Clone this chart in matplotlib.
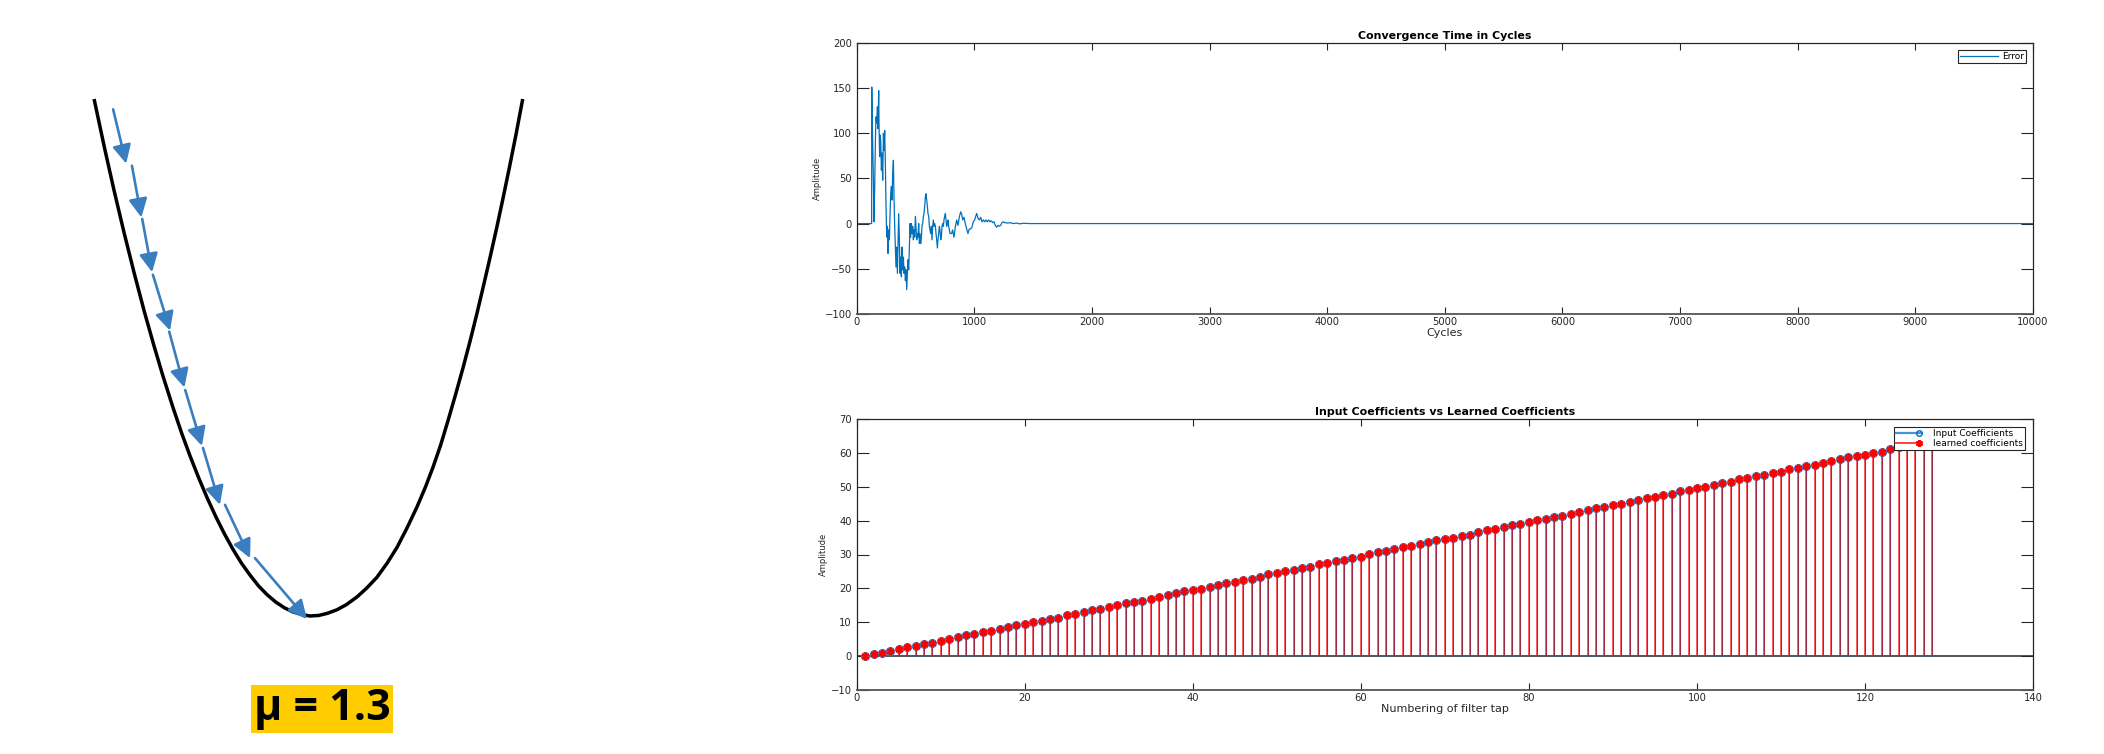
import matplotlib
matplotlib.use("Agg")
import matplotlib.pyplot as plt
from matplotlib.lines import Line2D
from matplotlib.legend_handler import HandlerBase

# ---------------- data ----------------
# left schematic (u = normalized weight, v = normalized cost), read off the bowl
bowl_u = [-1.009, -0.960, -0.915, -0.868, -0.822, -0.775, -0.730, -0.687, -0.640,
          -0.600, -0.560, -0.520, -0.480, -0.440, -0.400, -0.360, -0.320, -0.280,
          -0.240, -0.200, -0.160, -0.120, -0.080, -0.040, 0.000,
          0.040, 0.080, 0.126, 0.170, 0.220, 0.265, 0.313, 0.360, 0.407, 0.453,
          0.500, 0.540, 0.575, 0.610, 0.645, 0.680, 0.715, 0.750, 0.780, 0.808,
          0.840, 0.872, 0.902, 0.932, 0.962, 0.994]
bowl_v = [1.000, 0.905, 0.822, 0.740, 0.664, 0.590, 0.524, 0.464, 0.403,
          0.354, 0.309, 0.267, 0.228, 0.192, 0.159, 0.129, 0.102, 0.079,
          0.058, 0.041, 0.027, 0.016, 0.008, 0.003, 0.000,
          0.001, 0.005, 0.012, 0.022, 0.037, 0.054, 0.075, 0.102, 0.133, 0.170,
          0.211, 0.250, 0.288, 0.330, 0.378, 0.428, 0.480, 0.535, 0.585, 0.634,
          0.691, 0.750, 0.808, 0.868, 0.930, 1.000]
step_u_start = [-0.920, -0.832, -0.784, -0.734, -0.658, -0.583, -0.500, -0.397, -0.257]
step_v_start = [0.980, 0.871, 0.768, 0.660, 0.550, 0.437, 0.325, 0.215, 0.112]
step_u_end = [-0.859, -0.788, -0.738, -0.654, -0.587, -0.505, -0.421, -0.280, -0.014]
step_v_end = [0.875, 0.771, 0.665, 0.552, 0.442, 0.329, 0.215, 0.112, -0.006]
mu_label = "μ = 1.3"

# top: error vs cycles
error_cycles = [0, 127, 128, 133, 142, 147, 153, 159, 164, 170, 176, 181, 187, 190, 195,
                198, 204, 210, 215, 221, 227, 232, 238, 244, 249, 255, 261, 266, 272,
                278, 283, 289, 295, 300, 306, 312, 317, 323, 329, 334, 340, 346, 351,
                357, 363, 368, 374, 380, 385, 391, 397, 402, 408, 414, 419, 425, 431,
                436, 442, 448, 453, 459, 465, 470, 476, 482, 487, 493, 499, 504, 510,
                516, 521, 527, 533, 538, 544, 550, 555, 561, 567, 572, 578, 584, 589,
                595, 601, 606, 612, 618, 623, 629, 635, 640, 646, 652, 657, 663, 669,
                674, 680, 686, 691, 697, 703, 708, 714, 720, 725, 731, 737, 742, 748,
                754, 759, 765, 771, 776, 782, 788, 793, 807, 815, 827, 838, 850, 861,
                872, 884, 892, 901, 912, 923, 935, 946, 957, 969, 980, 991, 1003, 1014,
                1020, 1031, 1042, 1054, 1065, 1076, 1088, 1099, 1110, 1122, 1133, 1144,
                1156, 1167, 1178, 1189, 1201, 1212, 1223, 1235, 1246, 1257, 1269, 1280,
                1303, 1331, 1359, 1388, 1416, 1473, 10000]
error_values = [0, 0, 151, 107, 48, 2, 41, 92, 118, 111, 129, 105, 147, 107, 74,
                98, 92, 59, 78, 48, 100, 81, 103, 63, 22, -15, -3, -33, -7,
                -18, 8, 33, 41, 26, 55, 70, 30, -3, -29, -48, -26, -55, -26,
                11, -18, -55, -37, -59, -26, -51, -37, -55, -48, -63, -51, -73, -55,
                -40, -51, -26, 0, -15, 0, -11, -3, -18, -7, -15, 8, -3, -18,
                -11, -15, 0, -22, -11, -22, -15, -3, 0, 8, 11, 19, 30, 33,
                26, 19, 11, 8, -3, -7, -11, -3, -18, -3, 4, -3, 0, -3,
                -11, -18, -27, -18, -11, -3, -7, -18, -15, -3, 0, -3, 4, 8,
                11, 4, -3, 0, 4, -3, -7, -11, -11, -7, -15, -4, 4, -2,
                7, 13, 11, 4, 7, 0, -6, -11, -6, -6, -4, 2, 4, 9,
                11, 6, 4, 7, 2, 4, 2, 4, 2, 4, 2, 3,
                1, 2, -2, -4, -2, -3, -2, 1, 2, 1, 1, 0.5,
                1, 0, 0.5, -0.3, 0.3, 0, 0]

# bottom: filter coefficients
taps = list(range(1, 129))
input_coeffs = [0.0, 0.6, 1.0, 1.5, 2.0, 2.7, 3.1, 3.5, 4.0, 4.5,
                5.0, 5.6, 6.1, 6.6, 7.0, 7.5, 8.0, 8.7, 9.1, 9.5,
                10.0, 10.5, 10.9, 11.4, 12.1, 12.5, 13.1, 13.5, 14.0, 14.5,
                15.2, 15.6, 16.0, 16.4, 16.9, 17.4, 18.1, 18.6, 19.1, 19.5,
                19.9, 20.4, 21.1, 21.6, 22.0, 22.4, 22.9, 23.4, 24.1, 24.6,
                25.0, 25.5, 26.0, 26.4, 27.2, 27.6, 28.0, 28.5, 28.9, 29.4,
                30.1, 30.6, 31.1, 31.6, 32.1, 32.6, 33.0, 33.7, 34.2, 34.5,
                35.0, 35.5, 35.9, 36.6, 37.1, 37.5, 38.1, 38.6, 39.0, 39.6,
                40.2, 40.6, 41.0, 41.5, 41.9, 42.6, 43.1, 43.6, 44.1, 44.5,
                44.9, 45.6, 46.2, 46.6, 47.0, 47.5, 47.9, 48.6, 49.1, 49.5,
                50.0, 50.5, 51.0, 51.5, 52.2, 52.6, 53.1, 53.5, 54.0, 54.4,
                55.1, 55.5, 56.0, 56.4, 57.0, 57.5, 58.2, 58.7, 59.1, 59.5,
                60.0, 60.4, 61.1, 61.6, 62.0, 62.5, 63.0, 63.5]
learned_coeffs = [0.0, 0.6, 1.0, 1.5, 2.0, 2.7, 3.1, 3.5, 4.0, 4.5,
                  5.0, 5.6, 6.1, 6.6, 7.0, 7.5, 8.0, 8.7, 9.1, 9.5,
                  10.0, 10.5, 10.9, 11.4, 12.1, 12.5, 13.1, 13.5, 14.0, 14.5,
                  15.2, 15.6, 16.0, 16.4, 16.9, 17.4, 18.1, 18.6, 19.1, 19.5,
                  19.9, 20.4, 21.1, 21.6, 22.0, 22.4, 22.9, 23.4, 24.1, 24.6,
                  25.0, 25.5, 26.0, 26.4, 27.2, 27.6, 28.0, 28.5, 28.9, 29.4,
                  30.1, 30.6, 31.1, 31.6, 32.1, 32.6, 33.0, 33.7, 34.2, 34.5,
                  35.0, 35.5, 35.9, 36.6, 37.1, 37.5, 38.1, 38.6, 39.0, 39.6,
                  40.2, 40.6, 41.0, 41.5, 41.9, 42.6, 43.1, 43.6, 44.1, 44.5,
                  44.9, 45.6, 46.2, 46.6, 47.0, 47.5, 47.9, 48.6, 49.1, 49.5,
                  50.0, 50.5, 51.0, 51.5, 52.2, 52.6, 53.1, 53.5, 54.0, 54.4,
                  55.1, 55.5, 56.0, 56.4, 57.0, 57.5, 58.2, 58.7, 59.1, 59.5,
                  60.0, 60.4, 61.1, 61.6, 62.0, 62.5, 63.0, 63.5]

top_xticks = [0, 1000, 2000, 3000, 4000, 5000, 6000, 7000, 8000, 9000, 10000]
top_yticks = [-100, -50, 0, 50, 100, 150, 200]
bot_xticks = [0, 20, 40, 60, 80, 100, 120, 140]
bot_yticks = [-10, 0, 10, 20, 30, 40, 50, 60, 70]

# ---------------- figure ----------------
W, H = 2104, 754
fig = plt.figure(figsize=(W / 100, H / 100), dpi=100)
plt.rcParams['font.family'] = ['DejaVu Sans']

def px_rect(l, t, r, b):
    return [l / W, 1 - b / H, (r - l) / W, (b - t) / H]

INK = '#262626'
MBLUE = '#0072BD'

# ----- left schematic -----
axL = fig.add_axes([0, 0, 0.4, 1])
axL.axis('off')
ox, oy, sx, sy = 310, 616, 214, 517
axL.set_xlim((0 - ox) / sx, (0.4 * W - ox) / sx)
axL.set_ylim((oy - H) / sy, oy / sy)
axL.plot(bowl_u, bowl_v, color='black', lw=2.5, solid_capstyle='butt',
         solid_joinstyle='round')
for us, vs, ue, ve in zip(step_u_start, step_v_start, step_u_end, step_v_end):
    axL.annotate('', xy=(ue, ve), xytext=(us, vs),
                 arrowprops=dict(arrowstyle='-|>,head_length=0.8,head_width=0.4',
                                 color='#3A7DC0', lw=1.9, shrinkA=0, shrinkB=0,
                                 mutation_scale=14))
fig.text(322 / W, 1 - 709 / H, mu_label, ha='center', va='center', fontsize=31,
         fontweight='bold', family=['Open Sans', 'DejaVu Sans'], color='black',
         bbox=dict(boxstyle='square,pad=0.06', fc='#FFCC00', ec='none'))

def style(ax):
    for s in ax.spines.values():
        s.set_linewidth(0.9)
        s.set_color(INK)
    ax.spines['bottom'].set_linewidth(1.3)
    ax.spines['bottom'].set_color('#555555')
    ax.tick_params(which='both', direction='in', top=True, right=True,
                   colors=INK, labelsize=7.2, width=0.8)
    ax.tick_params(axis='x', length=5.3, pad=2.2)
    ax.tick_params(axis='y', length=8.4, pad=3.6)

# ----- top: convergence -----
axT = fig.add_axes(px_rect(856.7, 42.7, 2033, 314))
axT.plot(error_cycles, error_values, color=MBLUE, lw=0.9, label='Error')
axT.set_xlim(0, 10000)
axT.set_ylim(-100, 200)
axT.set_xticks(top_xticks)
axT.set_yticks(top_yticks)
style(axT)
axT.set_title('Convergence Time in Cycles', fontsize=7.9, fontweight='bold',
              color='black', pad=3)
axT.set_xlabel('Cycles', fontsize=8, color=INK, labelpad=1)
axT.set_ylabel('Amplitude', fontsize=6, color=INK, labelpad=2)
legT = axT.legend(loc='upper right', bbox_to_anchor=(1 - 7 / 1176.3, 1 - 7 / 271.3),
                  borderaxespad=0, fontsize=6.5, handlelength=4.2,
                  handletextpad=0.45, borderpad=0.25, fancybox=False,
                  framealpha=1, edgecolor=INK)
legT.get_frame().set_linewidth(0.8)

# ----- bottom: coefficients -----
axB = fig.add_axes(px_rect(856.7, 419, 2033, 690))
axB.axhline(0, color=INK, lw=1.1, zorder=1)
axB.vlines(taps, 0, input_coeffs, color=MBLUE, lw=0.8, zorder=2)
axB.vlines(taps, 0, learned_coeffs, color='red', lw=1.1, alpha=0.8, zorder=3)
h_in, = axB.plot(taps, input_coeffs, linestyle='none', marker='o', ms=5.6,
                 mfc='#8c8cc8', mec='#4a7cc0', mew=0.9, zorder=4)
h_le, = axB.plot(taps, learned_coeffs, linestyle='none', marker=(6, 2, 0), ms=5.5,
                 mec='red', mew=1.7, zorder=5)
axB.set_xlim(0, 140)
axB.set_ylim(-10, 70)
axB.set_xticks(bot_xticks)
axB.set_yticks(bot_yticks)
style(axB)
axB.set_title('Input Coefficients vs Learned Coefficients', fontsize=7.9,
              fontweight='bold', color='black', pad=3)
axB.set_xlabel('Numbering of filter tap', fontsize=8, color=INK, labelpad=1)
axB.set_ylabel('Amplitude', fontsize=6, color=INK, labelpad=2)


class EndMarker(HandlerBase):
    def __init__(self, line_kw, marker_kw):
        super().__init__()
        self.line_kw = line_kw
        self.marker_kw = marker_kw

    def create_artists(self, legend, orig_handle, xdescent, ydescent, width,
                       height, fontsize, trans):
        y = height / 2 - ydescent
        ln = Line2D([-xdescent, width - xdescent], [y, y], **self.line_kw)
        mk = Line2D([width - xdescent - 2], [y], linestyle='none', **self.marker_kw)
        ln.set_transform(trans)
        mk.set_transform(trans)
        return [ln, mk]


legB = axB.legend([h_in, h_le], ['Input Coefficients', 'learned coefficients'],
                  handler_map={
                      h_in: EndMarker(dict(color='#4a94d6', lw=1.6),
                                      dict(marker='o', ms=4, mfc='none',
                                           mec=MBLUE, mew=1.0)),
                      h_le: EndMarker(dict(color='#ff3030', lw=1.3),
                                      dict(marker=(6, 2, 0), ms=5, mec='red',
                                           mew=1.5))},
                  loc='upper right', bbox_to_anchor=(1 - 8 / 1176.3, 1 - 8 / 271),
                  borderaxespad=0, fontsize=6.5, handlelength=2.9,
                  handletextpad=1.2, borderpad=0.25, labelspacing=0.05,
                  fancybox=False, framealpha=1, edgecolor=INK)
legB.get_frame().set_linewidth(0.8)

fig.savefig('out.png', dpi=100)
